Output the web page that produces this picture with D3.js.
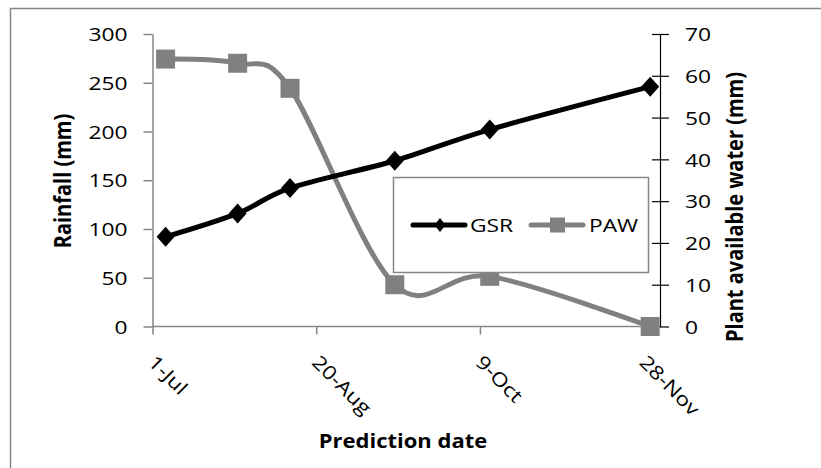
<!DOCTYPE html>
<html>
<head>
<meta charset="utf-8">
<script src="https://cdn.jsdelivr.net/npm/d3@7"></script>
<style>
  html, body { margin: 0; padding: 0; background: #fff; }
  svg { display: block; }
  text { font-family: "Open Sans", "Noto Sans", sans-serif; fill: #000; }
</style>
</head>
<body>
<svg id="chart" width="821" height="468"></svg>
<script>
// Prediction dates (day-month) and the two series
const predictionDates = ["5-Jul", "27-Jul", "12-Aug", "13-Sep", "12-Oct", "30-Nov"];
const gsrValues = [92, 116, 142, 170, 202, 246];      // growing season rainfall, mm
const pawValues = [64, 63, 57, 10, 12, 0];            // plant available water, mm

const xTickLabels = ["1-Jul", "20-Aug", "9-Oct", "28-Nov"];
const xDomainLabels = ["1-Jul", "3-Dec"];
const leftTicks = [0, 50, 100, 150, 200, 250, 300];
const rightTicks = [0, 10, 20, 30, 40, 50, 60, 70];

const YEAR = 2011;
const parseDay = s => d3.utcParse("%d-%b-%Y")(s + "-" + YEAR);
const fmtDay = d => `${d.getUTCDate()}-${d3.utcFormat("%b")(d)}`;

const svg = d3.select("#chart");
const plot = { left: 152.5, right: 660, top: 34, bottom: 326.5 };
const grey = "#868686";
const fontSize = 19;
const sx = 1.2;     // horizontal widening of label glyphs

// outer chart frame
svg.append("rect")
  .attr("x", 10.5).attr("y", 8.5)
  .attr("width", 830).attr("height", 480)
  .attr("fill", "none").attr("stroke", grey).attr("stroke-width", 1.5);

const x = d3.scaleUtc()
  .domain(xDomainLabels.map(parseDay))
  .range([plot.left, plot.right]);
const yL = d3.scaleLinear().domain([0, 300]).range([plot.bottom, plot.top]);
const yR = d3.scaleLinear().domain([0, 70]).range([plot.bottom, plot.top]);

// left axis
const gL = svg.append("g").attr("transform", `translate(${plot.left},0)`)
  .call(d3.axisLeft(yL).tickValues(leftTicks).tickSizeOuter(0).tickSizeInner(9));
gL.select(".domain").attr("stroke", grey).attr("stroke-width", 1.5);
gL.selectAll(".tick line").attr("stroke", grey).attr("stroke-width", 1.5);
gL.selectAll(".tick text").attr("font-size", fontSize).attr("font-family", null).attr("fill", "#000")
  .attr("x", 0).attr("dy", "0.35em").attr("transform", `translate(-25,0) scale(${sx},1)`);

// right axis (ticks cross the line)
const gR = svg.append("g").attr("transform", `translate(${plot.right},0)`)
  .call(d3.axisRight(yR).tickValues(rightTicks).tickSizeOuter(0).tickSizeInner(9));
gR.select(".domain").attr("stroke", "#000").attr("stroke-width", 1.2);
gR.selectAll(".tick line").attr("stroke", "#000").attr("stroke-width", 1.2).attr("x1", -8);
gR.selectAll(".tick text").attr("font-size", fontSize).attr("font-family", null).attr("fill", "#000")
  .attr("x", 0).attr("dy", "0.35em").attr("transform", `translate(25,0) scale(${sx},1)`);

// bottom axis with rotated date labels
const gB = svg.append("g").attr("transform", `translate(0,${plot.bottom})`)
  .call(d3.axisBottom(x).tickValues(xTickLabels.map(parseDay)).tickFormat(fmtDay)
    .tickSizeOuter(0).tickSizeInner(8));
gB.select(".domain").attr("stroke", grey).attr("stroke-width", 1.5)
  .attr("d", `M${plot.left},0H${plot.right}`);
gB.selectAll(".tick line").attr("stroke", grey).attr("stroke-width", 1.5);
gB.selectAll(".tick text")
  .attr("font-size", fontSize).attr("font-family", null).attr("fill", "#000")
  .attr("text-anchor", "start").attr("dy", null).attr("y", null)
  .attr("transform", `translate(-6,37) rotate(45) scale(${sx},1)`);

// series lines, smoothed
const pts = (vals, y) => predictionDates.map((d, i) => [x(parseDay(d)), y(vals[i])]);
const gsrPts = pts(gsrValues, yL);
const pawPts = pts(pawValues, yR);
const smooth = d3.line().curve(d3.curveCardinal.tension(0));

svg.append("path").attr("d", smooth(pawPts))
  .attr("fill", "none").attr("stroke", "#808080").attr("stroke-width", 5).attr("stroke-linejoin", "round");
svg.append("path").attr("d", smooth(gsrPts))
  .attr("fill", "none").attr("stroke", "#000").attr("stroke-width", 5).attr("stroke-linejoin", "round");

// markers
const diamond = (w, h) => `M0,${-h / 2}L${w / 2},0L0,${h / 2}L${-w / 2},0Z`;
svg.selectAll(".gsr-m").data(gsrPts).join("path").attr("class", "gsr-m")
  .attr("transform", d => `translate(${d[0]},${d[1]})`)
  .attr("d", diamond(18, 20)).attr("fill", "#000");
svg.selectAll(".paw-m").data(pawPts).join("rect").attr("class", "paw-m")
  .attr("x", d => d[0] - 9.5).attr("y", d => d[1] - 9.5)
  .attr("width", 19).attr("height", 19).attr("fill", "#808080");

// legend
const lg = svg.append("g");
lg.append("rect").attr("x", 393.5).attr("y", 177.5).attr("width", 255).attr("height", 95)
  .attr("fill", "#fff").attr("stroke", grey).attr("stroke-width", 1.5);
const ly = 225;
lg.append("line").attr("x1", 413).attr("x2", 465).attr("y1", ly).attr("y2", ly)
  .attr("stroke", "#000").attr("stroke-width", 5).attr("stroke-linecap", "round");
lg.append("path").attr("transform", `translate(440,${ly})`).attr("d", diamond(11, 14)).attr("fill", "#000");
lg.append("text").attr("transform", `translate(470,${ly + 7}) scale(${sx},1)`)
  .attr("font-size", fontSize).text("GSR");
lg.append("line").attr("x1", 531).attr("x2", 583).attr("y1", ly).attr("y2", ly)
  .attr("stroke", "#808080").attr("stroke-width", 5).attr("stroke-linecap", "round");
lg.append("rect").attr("x", 550).attr("y", ly - 7.5).attr("width", 15).attr("height", 15).attr("fill", "#808080");
lg.append("text").attr("transform", `translate(589,${ly + 7}) scale(${sx},1)`)
  .attr("font-size", fontSize).text("PAW");

// axis titles
svg.append("text").attr("transform", "translate(71,181) rotate(-90) scale(1,1.12)")
  .attr("text-anchor", "middle").attr("font-size", 20).attr("font-weight", "bold")
  .text("Rainfall (mm)");
svg.append("text").attr("transform", "translate(743,207) rotate(-90) scale(1,1.12)")
  .attr("text-anchor", "middle").attr("font-size", 20).attr("font-weight", "bold")
  .text("Plant available water (mm)");
svg.append("text").attr("transform", "translate(403,448) scale(1.1,1)")
  .attr("text-anchor", "middle").attr("font-size", 20).attr("font-weight", "bold")
  .text("Prediction date");
</script>
</body>
</html>
